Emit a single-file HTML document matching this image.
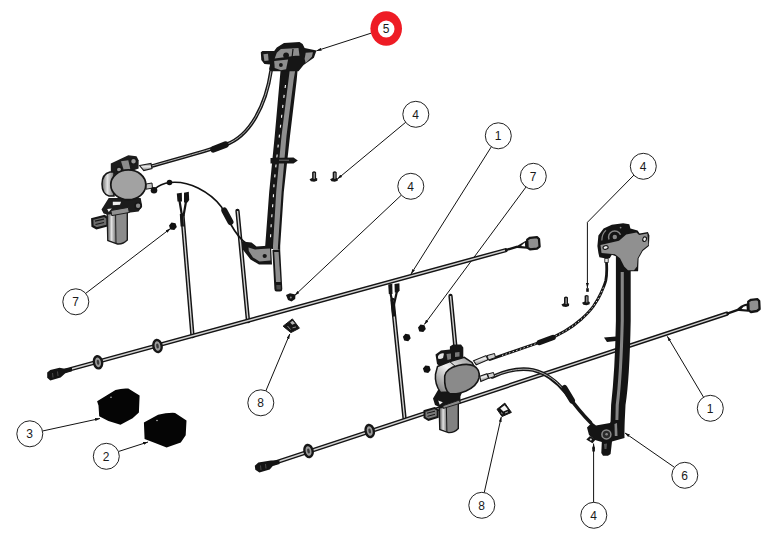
<!DOCTYPE html>
<html>
<head>
<meta charset="utf-8">
<title>Window regulator exploded view</title>
<style>
html,body{margin:0;padding:0;background:#fff;}
body{width:776px;height:542px;overflow:hidden;}
svg{display:block;}
.lbl{font-family:"Liberation Sans",sans-serif;font-size:12px;fill:#1a1a1a;text-anchor:middle;}
.bal{fill:#fff;stroke:#222;stroke-width:1;}
.ld{stroke:#111;stroke-width:1;fill:none;}
.rodo{stroke:#141414;stroke-width:4.3;fill:none;stroke-linecap:round;}
.rodi{stroke:#d2d2d2;stroke-width:1.4;fill:none;stroke-linecap:butt;}
.cabo{stroke:#161616;stroke-width:3.6;fill:none;stroke-linecap:round;}
.cabi{stroke:#b0b0b0;stroke-width:1;fill:none;stroke-linecap:round;}
.thin{stroke:#111;stroke-width:1.6;fill:none;}
</style>
</head>
<body>
<svg width="776" height="542" viewBox="0 0 776 542">
<rect width="776" height="542" fill="#fff"/>

<defs><marker id="ah" viewBox="0 0 10 6" refX="10" refY="3" markerWidth="5" markerHeight="3" markerUnits="userSpaceOnUse" orient="auto"><path d="M0 0 L10 3 L0 6 Z" fill="#111"/></marker></defs>
<!-- ===== LEADER LINES ===== -->
<g id="leaders" class="ld" marker-end="url(#ah)">
  <line x1="371" y1="33.200" x2="316.500" y2="50.800"/>
  <line x1="406" y1="122" x2="337.400" y2="179"/>
  <line x1="401.500" y1="195" x2="294.700" y2="295.400"/>
  <line x1="491.500" y1="146.500" x2="411" y2="274"/>
  <line x1="526" y1="187" x2="424.300" y2="324.500"/>
  <polyline points="634,175 587.400,222.300 587.400,288"/>
  <line x1="85.500" y1="293.500" x2="170.500" y2="228.500"/>
  <line x1="42.500" y1="431" x2="100" y2="418.500"/>
  <line x1="118.500" y1="451.500" x2="148" y2="442"/>
  <line x1="265.800" y1="391" x2="289.800" y2="334"/>
  <line x1="484.200" y1="492.800" x2="501.300" y2="416.800"/>
  <line x1="593.600" y1="502.500" x2="593.600" y2="443.500"/>
  <line x1="674" y1="467" x2="625" y2="433"/>
  <line x1="703.600" y1="397.300" x2="667.300" y2="336.300"/>
</g>

<!-- ===== HARNESS 1 (upper) ===== -->
<g id="harness1">
  <!-- branches -->
  <line class="rodo" x1="182.500" y1="216" x2="192.500" y2="336"/>
  <line class="rodi" x1="182.500" y1="216" x2="192.500" y2="336"/>
  <line class="rodo" x1="237.500" y1="211" x2="248" y2="321"/>
  <line class="rodi" x1="237.500" y1="211" x2="248" y2="321"/>
  <!-- main rod -->
  <line class="rodo" x1="62" y1="371.500" x2="505.500" y2="250.200"/>
  <line class="rodi" x1="62" y1="371.500" x2="505.500" y2="250.200"/>
  <!-- two-prong plug on branch A -->
  <path d="M179.400 200 L182 216 M186.100 201 L183.500 216" stroke="#141414" stroke-width="2.200" fill="none"/>
  <path d="M181.500 214 L182.300 226.500" stroke="#141414" stroke-width="3.400" fill="none"/>
  <path d="M176.800 193.500 L181.800 192.700 L182 201.500 L177.500 201.500 Z" fill="#141414"/>
  <path d="M184 192.700 L188.800 191.700 L189.200 200 L187.500 202.500 L184 202.500 Z" fill="#141414"/>
  <!-- left round connector -->
  <path d="M47.200 372.600 L50.300 370 L59.600 367.800 L64.700 368.800 L72 367.600 L72 371.200 L65.300 373.300 L60.600 377.500 L50.300 380.600 L47.200 377.800 Z" fill="#141414"/><path d="M52.500 373 L53 377.500 M57.500 371.500 L58 376" stroke="#555" stroke-width="0.800"/>
  <!-- grommets -->
  <ellipse cx="98" cy="362.3" rx="4.100" ry="6.100" fill="#9c9c9c" stroke="#161616" stroke-width="2.400" transform="rotate(-10 98 362.3)"/><ellipse cx="98" cy="362.3" rx="1.300" ry="2.600" fill="#3a3a3a" transform="rotate(-10 98 362.3)"/>
  <ellipse cx="157.5" cy="346" rx="4.100" ry="6.100" fill="#9c9c9c" stroke="#161616" stroke-width="2.400" transform="rotate(-10 157.5 346)"/><ellipse cx="157.5" cy="346" rx="1.300" ry="2.600" fill="#3a3a3a" transform="rotate(-10 157.5 346)"/>
  <!-- right square connector -->
  <path d="M505 250.300 L517.500 246.600" stroke="#141414" stroke-width="2.400" fill="none"/>
  <path d="M514 247.700 L527.500 239.800 L527.500 248.800 Z" fill="#141414"/>
  <path d="M521 246 L524.800 242.600 L525.200 246.600 Z" fill="#fff"/>
  <path d="M527.200 239.600 L530 237.800 L537 237.200 L539 239 L539.600 246.600 L537 248.600 L530 249.300 L527.600 247.800 Z" fill="#909090" stroke="#141414" stroke-width="2.300" stroke-linejoin="round"/>
</g>

<!-- ===== HARNESS 2 (lower) ===== -->
<g id="harness2">
  <line class="rodo" x1="392.500" y1="300" x2="404.500" y2="418"/>
  <line class="rodi" x1="392.500" y1="300" x2="404.500" y2="418"/>
  <line class="rodo" x1="450.500" y1="296" x2="455.500" y2="348"/>
  <line class="rodi" x1="450.500" y1="296" x2="455.500" y2="348"/>
  <line class="rodo" x1="274" y1="463" x2="727" y2="313.600"/>
  <line class="rodi" x1="274" y1="463" x2="727" y2="313.600"/>
  <path d="M390.300 292 L392.900 306 M397 291 L393.900 305" stroke="#141414" stroke-width="2.200" fill="none"/>
  <path d="M392.600 303 L394 316.500" stroke="#141414" stroke-width="3.400" fill="none"/>
  <path d="M388.200 284.500 L392.300 283.800 L392.500 294 L388.800 294 Z" fill="#141414"/>
  <path d="M394.500 284 L399.400 283.200 L399.600 290.500 L398 292.500 L394.800 292.500 Z" fill="#141414"/>
  <path d="M254.800 465.700 L258.400 462.600 L270.800 460.400 L279.500 460.200 L279.500 463.900 L272.800 465.900 L269.700 469.500 L259.400 472.600 L255.300 469.800 Z" fill="#141414"/><path d="M260.500 465.500 L261 470 M265.500 464 L266 468.500" stroke="#555" stroke-width="0.800"/>
  <ellipse cx="308.5" cy="451" rx="4.100" ry="6.100" fill="#9c9c9c" stroke="#161616" stroke-width="2.400" transform="rotate(-12 308.5 451)"/><ellipse cx="308.5" cy="451" rx="1.300" ry="2.600" fill="#3a3a3a" transform="rotate(-12 308.5 451)"/>
  <ellipse cx="369.7" cy="431" rx="4.100" ry="6.100" fill="#9c9c9c" stroke="#161616" stroke-width="2.400" transform="rotate(-12 369.7 431)"/><ellipse cx="369.7" cy="431" rx="1.300" ry="2.600" fill="#3a3a3a" transform="rotate(-12 369.7 431)"/>
  <path d="M726.500 313.800 L738.500 309.700" stroke="#141414" stroke-width="2.400" fill="none"/>
  <path d="M736 310.800 Q740 304.500 748 303.300 L748.500 311.800 Z" fill="#141414"/>
  <path d="M741.500 309 Q743 306.200 746.500 305.800 L746.800 309.600 Z" fill="#fff"/>
  <path d="M748.200 301.600 L751 299.800 L757.500 299.200 L759.200 301 L759.600 309 L757 311 L751 312 L748.600 310.400 Z" fill="#909090" stroke="#141414" stroke-width="2.300" stroke-linejoin="round"/>
</g>


<!-- ===== LEFT REGULATOR RAIL (5) ===== -->
<g id="railL">
  <!-- upper cable -->
  <path class="cabo" d="M150 166.500 C175 159.500 195 154 212 148.700 L226 144.500 C250 136 266 105 271 71"/>
  <path class="cabi" d="M150 166.500 C175 159.500 195 154 212 148.700 L226 144.500 C250 136 266 105 271 71"/>
  <path d="M213.500 149.300 L225.500 144.600" stroke="#141414" stroke-width="6.500" stroke-linecap="round" fill="none"/>
  <!-- lower cable -->
  <path class="thin" stroke-width="2.500" d="M154 189.500 C159 185 165 183 170 182.500 C180 181.500 190 184 198 188 C208 193 216 199.500 221.500 207 L230 223 C235 232 240 239.500 247 244"/>
  <path d="M224.300 210.500 L230.500 222" stroke="#141414" stroke-width="6" stroke-linecap="round" fill="none"/>
  <circle cx="169.500" cy="182.500" r="2.800" fill="#111"/>
  <!-- rail body -->
  <path d="M280.500 71 L298.500 60 L296.700 80 L290 136 L283.800 192 L280.200 246 L280.200 250 L265 248 L265.200 246 L269.200 192 L274.700 136 L279.700 80 Z" fill="#161616"/>
  <path d="M291 60 L297 60 L293.600 80 L286.500 136 L281.600 192 L278 246 L277.800 250 L273 250 L273 246 L276.200 192 L281.500 136 L288.500 80 Z" fill="#8e8e8e"/>
  <!-- bottom bracket -->
  <path d="M242 241.500 L251.500 242.500 L256.500 246.500 L271 245.500 L272 264.500 L259 264.500 L250.500 259.500 L242 248.500 Z" fill="#161616"/>
  <path d="M248.500 247.500 L255 249.500 L261 249 L270 248.500 L270.500 260.500 L259.500 261.500 L253 257.500 L248.800 251 Z" fill="#8e8e8e"/>
  <circle cx="264.700" cy="256" r="2.100" fill="#161616"/>
  <path d="M272.400 250 L280.200 250 L282.300 289 Q282.300 291.500 280 291.500 L276.500 291.500 Q274.500 291.500 274.400 289 Z" fill="#161616"/>
  <path d="M274.200 252 L278.600 252 L280.600 282 L276 282 Z" fill="#8e8e8e"/>
  <path d="M276.300 285 L280.600 285 L280.800 289.500 L276.500 289.500 Z" fill="#4a4a4a"/>
  <polyline points="285.500,85 283.500,100 280.300,128 278.100,146 276,165 274,184.500 273.300,198 271.200,224 270.300,242" stroke="#fff" stroke-width="1.100" stroke-dasharray="3 7" fill="none"/>
  <!-- tab -->
  <path d="M270.500 158 L293.500 157.500 L297.800 160.500 L293.500 163.500 L270.500 163.500 Z" fill="#161616"/>
  <line x1="279" y1="160.200" x2="289" y2="160.200" stroke="#888" stroke-width="0.800"/>
  <!-- top bracket -->
  <path d="M260.800 52.200 L262.400 51.100 L274.200 51.100 L276.800 47.500 L284 42.900 L299.500 41.900 L302.600 43.900 L304.600 48 L316.500 50.600 L313.900 57.800 L303.600 65 L298.500 71.200 L279.900 71.200 L270.600 71.200 L269 69.200 L270.100 64.500 L264.400 64 L261.300 59.900 Z" fill="#161616"/>
  <path d="M263.400 54.200 L268 53.700 L268.600 60.400 L264.400 60.900 Z" fill="#8e8e8e"/>
  <path d="M280.900 49.100 L298.500 48 L299.500 55.800 L295.400 55.800 L274.700 58.400 L276.800 52.700 Z" fill="#8e8e8e"/>
  <path d="M274.200 60.900 L288.100 59.400 L286.100 69.200 L280.900 70.200 L274.700 68.100 Z" fill="#8e8e8e"/>
  <path d="M305.700 52.700 L312.900 52.200 L311.900 56.800 L305.700 63 L304.600 58.900 Z" fill="#8e8e8e"/>
  <circle cx="286.100" cy="55.300" r="2.900" fill="#161616"/>
  <circle cx="280.900" cy="65" r="1.900" fill="#161616"/>
  <line x1="293" y1="49" x2="292" y2="58" stroke="#161616" stroke-width="1.200"/>
</g>

<!-- ===== LEFT MOTOR ===== -->
<g id="motorL">
  <defs>
    <linearGradient id="cyl" x1="0" x2="1" y1="0" y2="0">
      <stop offset="0" stop-color="#6a6a6a"/><stop offset="0.45" stop-color="#e2e2e2"/><stop offset="1" stop-color="#777"/>
    </linearGradient>
    <linearGradient id="cylv" x1="0" x2="0" y1="0" y2="1">
      <stop offset="0" stop-color="#777"/><stop offset="0.45" stop-color="#ececec"/><stop offset="1" stop-color="#777"/>
    </linearGradient>
  </defs>
  <!-- connector -->
  <path d="M92.200 219 L104.500 216 L107.500 218 L107.500 225.500 L96.500 228.300 L92.500 226 Z" fill="#6e6e6e" stroke="#161616" stroke-width="2.200"/>
  <path d="M95 221.200 L104 219.200 M95.500 224.500 L104 222.500" stroke="#161616" stroke-width="1.200"/>
  <!-- bracket -->
  <path d="M101.500 209.400 L108.700 198.100 L140.700 198.100 L142.200 206.300 L138.600 211.500 L130.400 212.500 L110.800 215.600 L103.600 213.600 Z" fill="#1c1c1c"/>
  <path d="M112.800 201.700 L121.100 201.700 L120 204.800 L112.800 205.300 Z" fill="#f0f0f0"/>
  <path d="M107.200 208.900 L111.800 208.400 L108.700 212 Z" fill="#f0f0f0"/>
  <circle cx="138.100" cy="205.800" r="3" fill="#8a8a8a" stroke="#161616" stroke-width="1.600"/>
  <!-- motor cylinder -->
  <path d="M107.200 214 L127.300 210.500 L127.300 240 Q123 244.500 117.500 244 L107.800 240.500 Z" fill="#8c8c8c" stroke="#1c1c1c" stroke-width="1.400"/>
  <path d="M108.200 216 L115 214.800 L115.600 242.500 L108.600 240 Z" fill="url(#cyl)"/>
  <line x1="115.600" y1="215" x2="116" y2="243" stroke="#1c1c1c" stroke-width="1"/>
  <path d="M110.800 210.500 L128.300 207.400 L129.300 212.500 L111.800 215.600 Z" fill="#909090" stroke="#1c1c1c" stroke-width="1"/>
  <!-- top lobe with bolts -->
  <path d="M110.800 163.400 L128.300 155.200 L136.500 156.200 L138.600 160.300 L138.600 168.600 L126.200 173 L110.800 175 Z" fill="#1c1c1c"/>
  <path d="M121 161.300 L128.300 160.300 L130.400 169.600 L124.200 171.600 Z" fill="#8c8c8c"/>
  <circle cx="119" cy="169.600" r="2.600" fill="#9a9a9a" stroke="#161616" stroke-width="1.300"/>
  <circle cx="133.500" cy="161.300" r="2.900" fill="#9a9a9a" stroke="#161616" stroke-width="1.300"/>
  <!-- outlets -->
  <path d="M139.600 165.500 L151 163.400 L152 168.600 L143.800 170.600 Z" fill="url(#cylv)" stroke="#1c1c1c" stroke-width="1.100"/>
  <path d="M146 184 L152 183 L152.500 188.100 L146 189.200 Z" fill="#c4c4c4" stroke="#1c1c1c" stroke-width="1"/>
  <circle cx="154" cy="190.200" r="3.300" fill="#141414"/>
  <!-- gear housing -->
  <path d="M110 172 Q102 174 102 184 Q102 194 109 196 L114 196 L114 172 Z" fill="url(#cyl)" stroke="#161616" stroke-width="1.500"/>
  <ellipse cx="128.300" cy="184.800" rx="17.500" ry="14.900" fill="#a2a2a2" stroke="#161616" stroke-width="1.700"/>
</g>


<!-- ===== RIGHT REGULATOR RAIL (6) ===== -->
<g id="railR">
  <!-- upper cable from motor to rail top -->
  <path d="M490 359.500 C510 352.500 528 346.500 545 340.500 C560 335 572 327.500 582 318.600 C588 313 591 309.500 593.400 306.200 C597 301 599 297.500 600.600 293.900 C603.500 287.500 605 284 605.800 280.500 C606.800 275.500 607 270 606.500 262" fill="none" stroke="#141414" stroke-width="2.800" stroke-linecap="round"/>
  <path d="M502 355.500 C515 351 528 346.500 545 340.500 C560 335 572 327.500 582 318.600 C588 313 591 309.500 593.400 306.200 C597 301 599 297.500 600.600 293.900 C602 291 603 288.500 604 286" fill="none" stroke="#f0f0f0" stroke-width="0.900" stroke-dasharray="1.400 2.400"/>
  <path d="M539.500 342.500 L553 337.500" stroke="#141414" stroke-width="5.500" stroke-linecap="round" fill="none"/>
  <!-- lower cable -->
  <path class="cabo" d="M492 377 C505 371 520 367.500 533 370 C548 373.500 558 383 566 393 C574 404 581 413 590.500 422.500" stroke-width="3"/>
  <path class="cabi" d="M492 377 C505 371 520 367.500 533 370 C548 373.500 558 383 562 388" stroke-width="0.900"/>
  <path d="M564.500 388 L572 400.500" stroke="#141414" stroke-width="6" stroke-linecap="round" fill="none"/>
  <!-- rail body -->
  <path d="M615.900 255 L630.700 255 L630.700 321 Q629.500 380 625.500 405 L624 436 L610 440 L611.100 405 Q615 370 615.900 321 Z" fill="#141414"/>
  <path d="M620.700 272 L623.800 272 L623.800 321 Q622.500 375 618.800 405 L618 432 L615.200 432 L615.700 405 Q619.500 375 620.700 321 Z" fill="#868686"/>
  <!-- tab -->
  <path d="M604 337.500 L616 336.500 L616 341 L607 342 Z" fill="#141414"/>
  <!-- top bracket -->
  <path d="M597.400 245.900 L598.400 235.600 L603.600 228.400 L611.800 224.800 L623.100 223.200 L629.300 224.300 L630.400 228.400 L637.600 230.500 L639.600 233.600 L647.900 232 L649.400 235.600 L648.900 245.900 L642.700 251.100 L638.600 258.300 L638.100 271.200 L622.100 271.200 L620 261.400 L615.900 256.200 L611.800 254.700 L609.700 258.300 L604.600 258.300 L599.400 257.300 L598.400 253.100 Z" fill="#141414"/>
  <path d="M600.500 244.900 L619 240.800 L626.200 234.600 L636.500 232.500 L639.100 235.100 L647.400 233.600 L648.400 244.900 L642.200 250 L637.600 258.300 L637 266.500 L634 270.200 L628 270.200 L624.200 266.500 L620 258.300 L614.900 254.200 L601.500 253.100 Z" fill="#909090"/>
  <path d="M609 239.500 A6.200 6.200 0 0 1 620.500 234.800" fill="none" stroke="#868686" stroke-width="1.500"/>
  <path d="M601.800 240.500 Q602 233.500 606 230.300" fill="none" stroke="#868686" stroke-width="1.200"/>
  <circle cx="614.800" cy="237" r="2.200" fill="#868686"/>
  <circle cx="620.600" cy="227.600" r="0.900" fill="#868686"/>
  <ellipse cx="605.600" cy="247.500" rx="2.600" ry="1.800" fill="#f4f4f4" stroke="#141414" stroke-width="1.100" transform="rotate(-15 605.600 247.500)"/>
  <ellipse cx="644.600" cy="239.200" rx="1.800" ry="2.300" fill="#f4f4f4" stroke="#141414" stroke-width="1.100" transform="rotate(20 644.600 239.200)"/>
  <rect x="604.800" y="258.500" width="3.400" height="4" fill="#e4e4e4" stroke="#141414" stroke-width="0.800"/>
  <!-- bottom bracket -->
  <path d="M587 427.500 L592 422.500 L596 425.500 L610 423 L612 420 L624 420 L624.500 438 L612 441.500 L610.600 454 L608 455.800 L603 455.800 L601.300 453 L601.800 442 L595 440 L589 435 Z" fill="#141414"/>
  <circle cx="606.400" cy="434.400" r="4.500" fill="#2a2a2a" stroke="#8a8a8a" stroke-width="1.500"/>
  <circle cx="606.600" cy="434.200" r="1.300" fill="#8a8a8a"/>
  <path d="M614.500 424 L617 423 L617.500 436 L614.800 436 Z" fill="#868686"/>
  <path d="M586.300 439.500 L590 436 L595.600 439.500 L592.500 443.300 Z" fill="#141414"/>
  <circle cx="590.800" cy="439.500" r="1.100" fill="#d8d8d8"/>
  <path d="M604 444 L607 443.500 L606.500 449 L604.500 449 Z" fill="#555"/>
</g>

<!-- ===== RIGHT MOTOR ===== -->
<g id="motorR">
  <defs>
    <linearGradient id="bandR" x1="0" x2="1" y1="1" y2="0">
      <stop offset="0" stop-color="#707070"/><stop offset="0.5" stop-color="#f2f2f2"/><stop offset="1" stop-color="#8a8a8a"/>
    </linearGradient>
    <linearGradient id="outR" x1="0" x2="0.300" y1="0" y2="1">
      <stop offset="0" stop-color="#6e6e6e"/><stop offset="0.500" stop-color="#f0f0f0"/><stop offset="1" stop-color="#777"/>
    </linearGradient>
  </defs>
  <!-- connector -->
  <path d="M424.500 411 L434.500 408 L437.700 410 L437.700 417 L428.500 419.800 L424.500 417.500 Z" fill="#7a7a7a" stroke="#161616" stroke-width="2"/>
  <path d="M427 413.200 L435 411.200 M427.500 416.300 L435 414.300" stroke="#161616" stroke-width="1"/>
  <!-- top bracket -->
  <path d="M435.500 354.600 L441 350.500 L449.900 349.500 L449.900 346.500 L453 344.500 L461 344.500 L463.300 347.500 L463.300 358 L452 363 L442 368 L437 364 Z" fill="#161616"/>
  <path d="M438 356 Q440 352.500 444 353.500 L443 358 Q440 359.500 438 358.500 Z" fill="#e4e4e4"/>
  <path d="M455 352.500 L459.500 352 L459.500 356.500 L455 357 Z" fill="#7a7a7a"/>
  <path d="M446.500 354 L451 353.500 L451 359 L447.500 360 Z" fill="#7a7a7a"/>
  <!-- lower bracket -->
  <path d="M433 398.600 L438 390 L463 390 L460.400 396.500 L460.400 403.200 L443.400 409 L435 405 Z" fill="#161616"/>
  <path d="M438.200 400.600 L442.800 402.200 L439.700 404.700 Z" fill="#f4f4f4"/>
  <!-- motor cylinder -->
  <path d="M439.200 408 L458.300 402 L458.300 428.500 Q454 433 448.500 432.600 L439.800 429.500 Z" fill="#828282" stroke="#161616" stroke-width="1.400"/>
  <path d="M440.300 409.500 L446 407.800 L446.600 431.200 L440.600 429 Z" fill="url(#cyl)"/>
  <line x1="446.400" y1="407.800" x2="446.900" y2="431.800" stroke="#161616" stroke-width="1"/>
  <path d="M442.800 405.800 L459.300 400.100 L460.400 403.200 L443.400 408.400 Z" fill="#8a8a8a" stroke="#161616" stroke-width="0.900"/>
  <!-- outlets -->
  <path d="M473.600 360.800 L486 355.600 L488 359.700 L476.200 364.900 Z" fill="url(#outR)" stroke="#161616" stroke-width="1.100"/>
  <path d="M487 355.600 L494.500 353.500 L495.500 357.500 L488.500 360 Z" fill="#d0d0d0" stroke="#161616" stroke-width="1"/>
  <path d="M479.800 376.200 L487 373.700 L488.600 378.300 L480.800 381.400 Z" fill="url(#outR)" stroke="#161616" stroke-width="1.100"/>
  <path d="M487.500 374 L493.500 372.500 L494.500 376.500 L489 378.300 Z" fill="#d0d0d0" stroke="#161616" stroke-width="1"/>
  <!-- gear housing: side band then face -->
  <path d="M437.500 366.500 L450 361.500 L464.300 357.300 L472 362.500 L476 370 L448 392 L440.500 392.500 Q434.500 384 435.500 374.200 Z" fill="url(#bandR)" stroke="#161616" stroke-width="1.500"/>
  <path d="M450 361.800 L456.500 367.500" stroke="#161616" stroke-width="1"/>
  <path d="M444.700 376 Q446 368.500 458 365.500 Q468 363 474 366 Q480.500 369.500 479 378 Q477 386 466 391 Q456 395 449.500 393.500 Q444 390 444.700 376 Z" fill="#8a8a8a" stroke="#161616" stroke-width="1.600"/>
</g>

<!-- ===== SWITCH BLOCKS (2,3) ===== -->
<g id="blocks" fill="#050505">
  <path d="M97.100 401.300 L115.500 389.900 Q122 388 128.300 388.500 L139.600 395.600 L138.900 412.600 L132.600 418.300 L120.500 424.700 L108.400 421.100 L99.200 416.200 L98.500 405.500 Z"/>
  <path d="M143.900 422.600 L158.100 414.800 Q167 412.500 175.100 412.900 L186.500 420.400 L185.700 435.300 L180.800 442.400 L166.600 447.400 L153.800 442.400 L144.600 438.900 Z"/>
  <circle cx="111" cy="397.300" r="0.700" fill="#ddd"/>
  <circle cx="157" cy="420.500" r="0.700" fill="#ddd"/>
</g>

<!-- ===== CLIPS (8) ===== -->
<g id="clips">
  <path d="M283.100 326.200 L292.400 318.900 L299.400 328.200 L290.900 332.600 Z" fill="#141414" stroke="#141414" stroke-width="1" stroke-linejoin="round"/>
  <path d="M290.200 322.600 L292.600 320.800 L295 323.600 L292.200 324.800 Z" fill="#b4b4b4"/>
  <path d="M287.500 326 L290.500 329.500 M292.500 327.800 L296 327" stroke="#aaa" stroke-width="0.800"/>
  <path d="M497 409.300 L504.800 403.100 L511.400 412.400 L502.100 416.500 Z" fill="#141414" stroke="#141414" stroke-width="1" stroke-linejoin="round"/>
  <path d="M500.300 408.600 L504.600 405.200 L508 409.600 L503.400 411.600 Z" fill="#f4f4f4"/>
  <path d="M501 412.600 L502.500 413.800 M505 413 L508 411.800" stroke="#ddd" stroke-width="0.800"/>
</g>

<!-- ===== SCREWS (4) ===== -->
<g id="screws">
  <path d="M312.1 172.2 Q314.1 170.4 316.1 172.2 L316.1 178.0 L317.3 178.4 L317.1 180.7 L314.1 181.7 L310.9 181.2 L309.5 179.2 L312.1 178.0 Z" fill="#161616"/><rect x="313.5" y="172.8" width="1.500" height="6" fill="#8a8a8a"/>
  <path d="M332.7 172.2 Q334.7 170.4 336.7 172.2 L336.7 178.0 L337.9 178.4 L337.7 180.7 L334.7 181.7 L331.5 181.2 L330.1 179.2 L332.7 178.0 Z" fill="#161616"/><rect x="334.1" y="172.8" width="1.500" height="6" fill="#8a8a8a"/>
  <path d="M564.0 297.5 Q566.0 295.7 568.0 297.5 L568.0 303.3 L569.2 303.7 L569.0 306.0 L566.0 307.0 L562.8 306.5 L561.4 304.5 L564.0 303.3 Z" fill="#161616"/><rect x="565.4" y="298.1" width="1.500" height="6" fill="#8a8a8a"/>
  <path d="M584.6 295.8 Q586.6 294.0 588.6 295.8 L588.6 301.6 L589.8 302.0 L589.6 304.3 L586.6 305.3 L583.4 304.8 L582.0 302.8 L584.6 301.6 Z" fill="#161616"/><rect x="586.0" y="296.4" width="1.500" height="6" fill="#8a8a8a"/>
  <path d="M286 295 L290 293.200 L295.500 294.500 L295.200 299 L291.500 301.600 L288 300 Z" fill="#141414"/><circle cx="290.800" cy="297.600" r="1" fill="#8a8a8a"/>
  <rect x="586.200" y="288.200" width="2.600" height="3.600" fill="#111"/>
  <rect x="592.300" y="447.500" width="2.600" height="4" fill="#111"/>
</g>

<!-- ===== NUTS (7) ===== -->
<g id="nuts" fill="#101010">
  <path d="M176.8 227.0 L174.3 230.1 L170.3 229.4 L169.0 225.6 L171.5 222.5 L175.5 223.2 Z"/>
  <path d="M425.8 329.0 L423.3 332.1 L419.3 331.4 L418.0 327.6 L420.5 324.5 L424.5 325.2 Z"/>
  <path d="M410.7 338.2 L408.2 341.3 L404.2 340.6 L402.9 336.8 L405.4 333.7 L409.4 334.4 Z"/>
  <path d="M430.7 369.9 L428.2 373.0 L424.2 372.3 L422.9 368.5 L425.4 365.4 L429.4 366.1 Z"/>
</g>

<!-- ===== BALLOONS ===== -->
<g id="balloons">
  <ellipse cx="386.200" cy="28.500" rx="15.800" ry="17.200" fill="#ee1c25"/><ellipse cx="386.200" cy="29" rx="8.300" ry="8.600" fill="#fff"/>
  <text class="lbl" x="386" y="33">5</text>
  <circle class="bal" cx="415.8" cy="114.3" r="13"/><text class="lbl" x="415.500" y="118.500">4</text>
  <circle class="bal" cx="498.3" cy="135.8" r="13"/><text class="lbl" x="498" y="140">1</text>
  <circle class="bal" cx="410.8" cy="186.3" r="13"/><text class="lbl" x="410.500" y="190.500">4</text>
  <circle class="bal" cx="533.3" cy="176.3" r="13"/><text class="lbl" x="533" y="180.500">7</text>
  <circle class="bal" cx="643.3" cy="166.3" r="13"/><text class="lbl" x="643" y="170.500">4</text>
  <circle class="bal" cx="75.8" cy="301.8" r="13"/><text class="lbl" x="75.500" y="306">7</text>
  <circle class="bal" cx="29.8" cy="433.8" r="13"/><text class="lbl" x="29.500" y="438">3</text>
  <circle class="bal" cx="106.3" cy="456.3" r="13"/><text class="lbl" x="106" y="460.500">2</text>
  <circle class="bal" cx="260.8" cy="402.8" r="13"/><text class="lbl" x="260.500" y="407">8</text>
  <circle class="bal" cx="481.8" cy="505.3" r="13"/><text class="lbl" x="481.500" y="509.500">8</text>
  <circle class="bal" cx="593.8" cy="515.3" r="13"/><text class="lbl" x="593.500" y="519.500">4</text>
  <circle class="bal" cx="684.8" cy="475.3" r="13"/><text class="lbl" x="684.500" y="479.500">6</text>
  <circle class="bal" cx="710.3" cy="408.3" r="13"/><text class="lbl" x="710" y="412.500">1</text>
</g>
</svg>
</body>
</html>
